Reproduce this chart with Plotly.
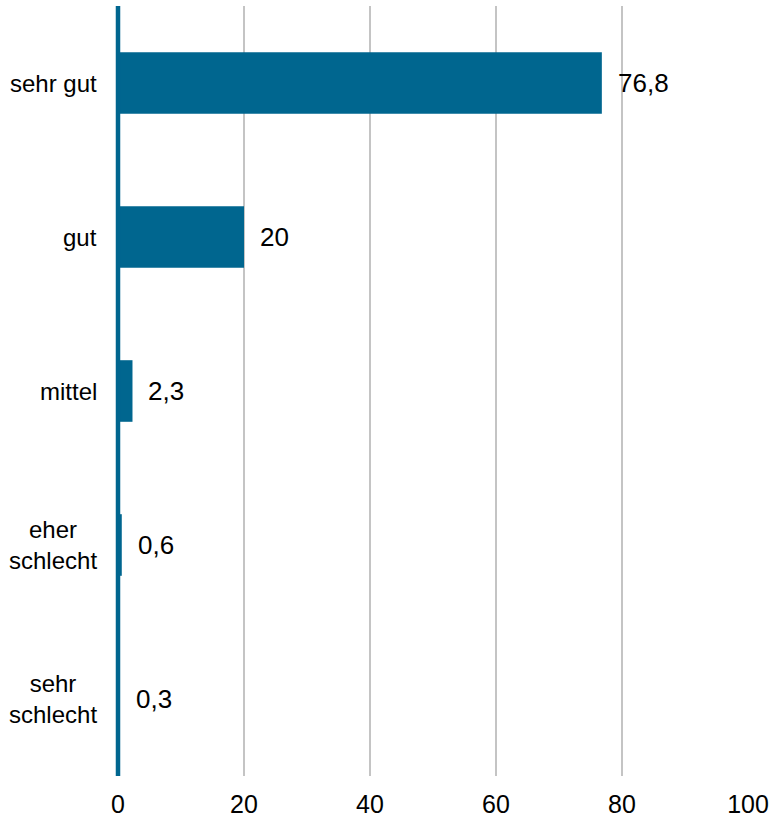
import plotly.graph_objects as go

categories = ["sehr gut", "gut", "mittel", "eher schlecht", "sehr schlecht"]
category_labels = ["sehr gut", "gut", "mittel", "eher<br>schlecht", "sehr<br>schlecht"]
values = [76.8, 20, 2.3, 0.6, 0.3]
value_labels = ["76,8", "20", "2,3", "0,6", "0,3"]
x_ticks = [0, 20, 40, 60, 80, 100]

BAR = "#00668f"
FONT = "Liberation Sans, Arial, sans-serif"

fig = go.Figure(go.Bar(
    y=categories, x=values, orientation="h",
    marker=dict(color=BAR, line=dict(width=0)),
    hoverinfo="skip",
))

annotations = []
for c, v, t in zip(categories, values, value_labels):
    annotations.append(dict(x=v, y=c, xref="x", yref="y", text=t, showarrow=False,
                            xanchor="left", yanchor="middle", xshift=14,
                            font=dict(family=FONT, size=26, color="#000000")))
for c, lab in zip(categories, category_labels):
    annotations.append(dict(x=0, y=c, xref="paper", yref="y", text=lab, showarrow=False,
                            xanchor="right", yanchor="middle", xshift=-19, align="center",
                            font=dict(family=FONT, size=24, color="#000000")))

fig.update_layout(
    width=771, height=822,
    margin=dict(l=118, r=23, t=6, b=46, autoexpand=False),
    paper_bgcolor="white", plot_bgcolor="white",
    showlegend=False, bargap=0.6,
    annotations=annotations,
    shapes=[dict(type="line", xref="paper", yref="paper", x0=0, x1=0, y0=0, y1=1,
                 line=dict(color=BAR, width=4.5), layer="above")],
    xaxis=dict(range=[0, 100], tickvals=x_ticks, ticktext=[str(t) for t in x_ticks],
               showgrid=True, gridcolor="#c4c4c4", gridwidth=2,
               zeroline=False, showline=False, ticks="", automargin=False,
               ticklabelstandoff=11,
               tickfont=dict(family=FONT, size=25, color="#000000"), fixedrange=True),
    yaxis=dict(categoryorder="array", categoryarray=categories[::-1],
               showticklabels=False, showgrid=False, zeroline=False, automargin=False,
               showline=False, ticks="", fixedrange=True),
)

fig.write_html("out.html")
